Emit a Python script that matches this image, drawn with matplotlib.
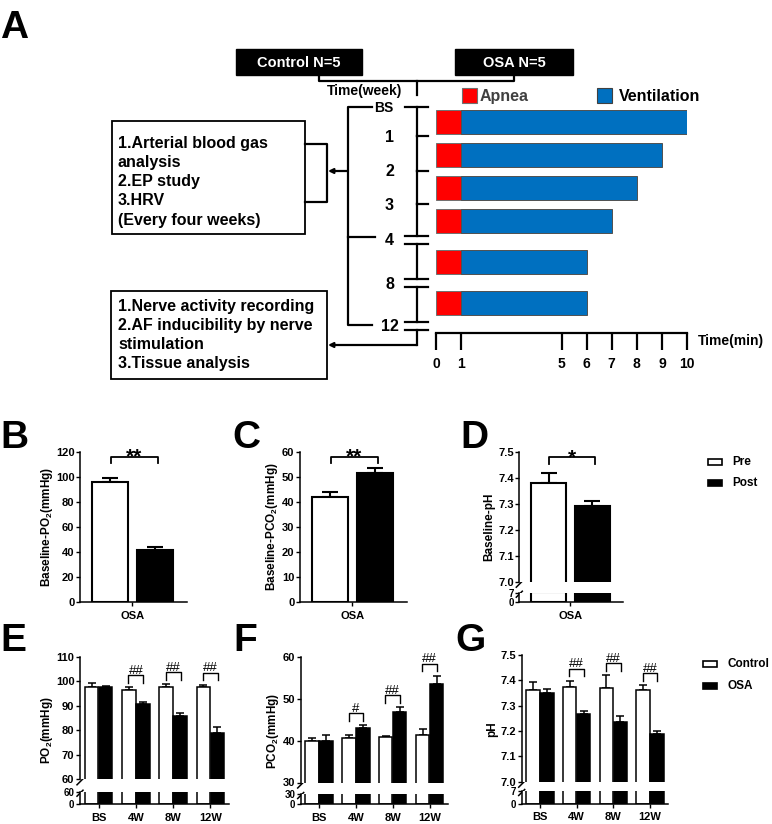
import numpy as np
import matplotlib.pyplot as plt
from matplotlib.patches import Rectangle

plt.rcParams['font.family'] = ['Liberation Sans', 'DejaVu Sans']
plt.rcParams['font.weight'] = 'bold'
plt.rcParams['mathtext.fontset'] = 'custom'
plt.rcParams['mathtext.rm'] = 'Liberation Sans:bold'
plt.rcParams['mathtext.it'] = 'Liberation Sans:bold'
plt.rcParams['mathtext.bf'] = 'Liberation Sans:bold'
plt.rcParams['mathtext.default'] = 'rm'
plt.rcParams['axes.linewidth'] = 1.1

# ---------------- data ----------------
# panel A: apnea / ventilation cycle used in each stage
weeks = ['BS', '1', '2', '3', '4', '8', '12']
apnea_min = [1, 1, 1, 1, 1, 1]
vent_min = [9, 8, 7, 6, 5, 5]
time_ticks = [0, 1, 5, 6, 7, 8, 9, 10]
groups_n = ['Control N=5', 'OSA N=5']
box1_lines = ['1.Arterial blood gas', 'analysis', '2.EP study', '3.HRV',
              '(Every four weeks)']
box2_lines = ['1.Nerve activity recording', '2.AF inducibility by nerve',
              'stimulation', '3.Tissue analysis']

# panels B-D: baseline, pre vs post (OSA)
base_labels = ['Pre', 'Post']
base_po2 = [95.6, 41.7]
base_po2_sem = [3.2, 2.6]
base_pco2 = [42.0, 51.5]
base_pco2_sem = [2.0, 2.0]
base_ph = [7.382, 7.292]
base_ph_sem = [0.038, 0.018]
base_sig = ['**', '**', '*']

# panels E-G: control vs OSA over time
time_points = ['BS', '4W', '8W', '12W']
po2_ctrl = [97.8, 96.4, 97.8, 97.6]
po2_ctrl_sem = [1.3, 1.1, 0.9, 0.9]
po2_osa = [97.6, 90.6, 85.8, 78.7]
po2_osa_sem = [0.6, 0.8, 1.1, 2.5]
pco2_ctrl = [39.8, 40.7, 40.8, 41.4]
pco2_ctrl_sem = [0.8, 0.7, 0.4, 1.3]
pco2_osa = [39.9, 43.0, 46.7, 53.5]
pco2_osa_sem = [1.4, 0.6, 1.2, 1.9]
ph_ctrl = [7.360, 7.375, 7.371, 7.360]
ph_ctrl_sem = [0.033, 0.023, 0.049, 0.020]
ph_osa = [7.350, 7.267, 7.235, 7.190]
ph_osa_sem = [0.017, 0.013, 0.023, 0.010]
sig_po2 = ['', '##', '##', '##']
sig_pco2 = ['', '#', '##', '##']
sig_ph = ['', '##', '##', '##']

# ---------------- figure ----------------
W, H = 772, 824
fig = plt.figure(figsize=(W / 100, H / 100), dpi=100)


def px_axes(x0, y0, x1, y1):
    # axes from pixel box (top-left origin)
    return fig.add_axes([x0 / W, 1 - y1 / H, (x1 - x0) / W, (y1 - y0) / H])


ov = fig.add_axes([0, 0, 1, 1])
ov.set_xlim(0, W)
ov.set_ylim(H, 0)
ov.axis('off')

LW = 1.6
TICK_FS = 8
LOW_FS = 7
for lab, x, y in [('A', 0, 38), ('B', 0, 448), ('C', 232, 448), ('D', 460, 448),
                  ('E', 0, 651), ('F', 233, 651), ('G', 455, 651)]:
    ov.text(x, y, lab, ha='left', va='baseline', fontsize=28, fontweight='bold')

# ---- panel A: group boxes ----
for (x0, x1), txt in zip([(236, 362), (455, 573)], groups_n):
    ov.add_patch(Rectangle((x0, 49), x1 - x0, 26, fc='black', ec='black'))
    ov.text((x0 + x1) / 2, 62.5, txt, color='white', ha='center', va='center',
            fontsize=10.5)
ov.plot([318.6, 318.6, 514.3, 514.3], [75, 80.7, 80.7, 75], color='black', lw=LW)
ov.plot([417, 417], [80.7, 95], color='black', lw=LW)
ov.text(365, 91, 'Time(week)', ha='center', va='center', fontsize=10)

# week timeline
week_y = [107, 136, 170.7, 204, 239.5, 283.3, 325.5]
double = [False, False, False, False, True, True, True]
half = 4
xt = 417
for i in range(len(week_y) - 1):
    ya = week_y[i] + (half if double[i] else 0)
    yb = week_y[i + 1] - (half if double[i + 1] else 0)
    ov.plot([xt, xt], [ya, yb], color='black', lw=LW)
ov.plot([xt, xt], [week_y[-1] + half, 345], color='black', lw=LW)
for i, (w, y) in enumerate(zip(weeks, week_y)):
    if double[i]:
        for yy in (y - half, y + half):
            ov.plot([405, 428], [yy, yy], color='black', lw=LW)
    elif i == 0:
        ov.plot([405, 428], [y, y], color='black', lw=LW)
    else:
        ov.plot([xt, 428], [y, y], color='black', lw=LW)
    ov.text(384 if w == 'BS' else 389.5, y + 1, w, ha='center', va='center',
            fontsize=10 if w == 'BS' else 11.5)

# left bracket + arrows
ov.plot([372, 348, 348, 372], [107.3, 107.3, 325, 325], color='black', lw=LW)
ov.plot([348, 375], [237.3, 237.3], color='black', lw=LW)
arrow = dict(arrowstyle='-|>', color='black', lw=LW, mutation_scale=7,
             shrinkA=0, shrinkB=0)
ov.annotate('', xy=(328, 171), xytext=(348, 171), arrowprops=arrow)
ov.annotate('', xy=(328, 345), xytext=(xt, 345), arrowprops=arrow)

# text boxes
ov.add_patch(Rectangle((112, 120.7), 192.8, 113.3, fc='white', ec='black', lw=1.3))
ov.plot([304.8, 327, 327, 304.8], [143.7, 143.7, 202, 202], color='black', lw=LW)
for txt, y in zip(box1_lines, [143.3, 162.3, 181.7, 200.7, 220]):
    ov.text(118, y, txt, ha='left', va='center', fontsize=11.5)
ov.add_patch(Rectangle((110.6, 290.7), 216.4, 88.3, fc='white', ec='black', lw=1.3))
for txt, y in zip(box2_lines, [306, 325, 344.3, 363.3]):
    ov.text(118, y, txt, ha='left', va='center', fontsize=11.5)

# apnea / ventilation legend
ov.add_patch(Rectangle((462, 88), 15, 15, fc='#FF0000', ec='#707070', lw=0.8))
ov.text(480, 96, 'Apnea', ha='left', va='center', fontsize=11.5, color='#404040')
ov.add_patch(Rectangle((597, 88), 15, 15, fc='#0070C0', ec='#404040', lw=0.8))
ov.text(619, 96, 'Ventilation', ha='left', va='center', fontsize=11.5)

# apnea / ventilation bars on a minute axis
ta = px_axes(436, 100, 687, 333)
ta.set_xlim(0, 10)
ta.set_ylim(333, 100)
rows = [122, 154.7, 188.3, 221, 262, 303]
ta.barh(rows, apnea_min, height=24, left=0, color='#FF0000',
        edgecolor='#707070', linewidth=0.7)
ta.barh(rows, vent_min, height=24, left=apnea_min, color='#0070C0',
        edgecolor='#505050', linewidth=0.7)
for s in ['top', 'right', 'left']:
    ta.spines[s].set_visible(False)
ta.spines['bottom'].set_linewidth(LW)
ta.set_yticks([])
ta.set_xticks(time_ticks)
ta.set_xticklabels([str(t) for t in time_ticks])
ta.tick_params(axis='x', direction='out', length=12, width=LW, labelsize=10, pad=5)
ta.patch.set_visible(False)
ov.text(698, 341, 'Time(min)', ha='left', va='center', fontsize=10)


# ---------------- bar panels ----------------
def draw_bars(ax, xs, vals, sems, colors, width, offs, lw, cap):
    for v, s, c, o in zip(vals, sems, colors, offs):
        ax.bar(xs + o, v, width, color=c, edgecolor='black', linewidth=lw, zorder=2)
        ax.errorbar(xs + o, v, yerr=[np.zeros(len(s)), s], fmt='none',
                    ecolor='black', elinewidth=lw, capsize=cap, capthick=lw,
                    zorder=1)


def style_axis(ax, ticks, fmt, fs):
    for s in ['top', 'right']:
        ax.spines[s].set_visible(False)
    ax.set_yticks(ticks)
    ax.set_yticklabels([fmt.format(t) for t in ticks])
    ax.tick_params(axis='y', direction='out', length=3, width=1, labelsize=fs, pad=1)
    ax.tick_params(axis='x', direction='out', length=3, width=1,
                   labelsize=TICK_FS, pad=3)


def make_panel(box, lo, hi, ticks, fmt, low=None):
    # box = (x0, x1, y_top, y_break, y_low_top, y_bottom)
    x0, x1, yt, yb, ylt, ybot = box
    if low is None:
        ax = px_axes(x0, yt, x1, ybot)
        ax.set_ylim(lo, hi)
        style_axis(ax, ticks, fmt, TICK_FS)
        return ax, ax, [ax]
    top = px_axes(x0, yt, x1, yb)
    bot = px_axes(x0, ylt, x1, ybot)
    top.set_ylim(lo, hi)
    bot.set_ylim(0, lo)
    style_axis(top, ticks, fmt, TICK_FS)
    style_axis(bot, [0, lo], low, LOW_FS)
    top.spines['bottom'].set_visible(False)
    top.set_xticks([])
    # break marks
    for y in (yb + 2.5, ylt + 1.5):
        ov.plot([x0 - 3, x0 + 3], [y + 3, y - 3], color='black', lw=1.1)
    return top, bot, [top, bot]


def px_to_data(ax):
    y0, y1 = ax.get_ylim()
    return (y1 - y0) / (ax.get_position().height * H)


def bracket(ax, xa, xb, yb, label, leg_px, fs, lw, text_px, weight):
    k = px_to_data(ax)
    ax.plot([xa, xa, xb, xb], [yb - leg_px * k, yb, yb, yb - leg_px * k],
            color='black', lw=lw, clip_on=False)
    ax.text((xa + xb) / 2, yb + text_px * k, label, ha='center', va='baseline',
            fontsize=fs, fontweight=weight, clip_on=False)


# B-D
base_sets = [
    (base_po2, base_po2_sem, (80, 186.7, 451.7, None, None, 602.3), 0, 120,
     list(range(0, 121, 20)), '{:d}', None, 'Baseline-PO$_2$(mmHg)', 46.7),
    (base_pco2, base_pco2_sem, (300, 406.7, 451.7, None, None, 602.3), 0, 60,
     list(range(0, 61, 10)), '{:d}', None, 'Baseline-PCO$_2$(mmHg)', 271.7),
    (base_ph, base_ph_sem, (519.3, 623.3, 452.3, 581.7, 592.7, 602.3), 7.0, 7.5,
     [7.0, 7.1, 7.2, 7.3, 7.4, 7.5], '{:.1f}', '{:.0f}', 'Baseline-pH', 489.3),
]
bx = np.array([0.0])
for (vals, sems, box, lo, hi, ticks, fmt, low, ylab, lx), sig in zip(base_sets, base_sig):
    top, bot, axs = make_panel(box, lo, hi, ticks, fmt, low)
    for ax in axs:
        draw_bars(ax, bx, [[vals[0]], [vals[1]]], [[sems[0]], [sems[1]]],
                  ['white', 'black'], 1.0, [-0.62, 0.62], 1.5, 5.5)
        ax.set_xlim(-1.45, 1.5)
    bot.set_xticks([0])
    bot.set_xticklabels(['OSA'])
    k = px_to_data(top)
    bracket(top, -0.6, 0.7, hi - 5 * k, sig, 6.6, 15, 1.3, -6, 'bold')
    ov.text(lx, (box[2] + box[5]) / 2, ylab, rotation=90, ha='center',
            va='center', fontsize=8.5)

# E-G
time_sets = [
    (po2_ctrl, po2_ctrl_sem, po2_osa, po2_osa_sem, sig_po2,
     (80, 229, 656.7, 779.3, 791.7, 804.3), 60, 110, list(range(60, 111, 10)),
     '{:d}', '{:d}', 'PO$_2$(mmHg)', 46.7),
    (pco2_ctrl, pco2_ctrl_sem, pco2_osa, pco2_osa_sem, sig_pco2,
     (300.7, 448, 656.7, 782.5, 794, 804.3), 30, 60, [30, 40, 50, 60],
     '{:d}', '{:d}', 'PCO$_2$(mmHg)', 273.3),
    (ph_ctrl, ph_ctrl_sem, ph_osa, ph_osa_sem, sig_ph,
     (521.7, 668.3, 655, 781.7, 791, 803.5), 7.0, 7.5,
     [7.0, 7.1, 7.2, 7.3, 7.4, 7.5], '{:.1f}', '{:.0f}', 'pH', 492.3),
]
tx = np.arange(len(time_points))
for ctrl, csem, osa, osem, sigs, box, lo, hi, ticks, fmt, low, ylab, lx in time_sets:
    top, bot, axs = make_panel(box, lo, hi, ticks, fmt, low)
    for ax in axs:
        draw_bars(ax, tx, [ctrl, osa], [csem, osem], ['white', 'black'],
                  0.36, [-0.19, 0.19], 1.1, 2.6)
        ax.set_xlim(-0.5, 3.5)
    bot.set_xticks(tx)
    bot.set_xticklabels(time_points)
    k = px_to_data(top)
    for i, s in enumerate(sigs):
        if not s:
            continue
        ytop = max(ctrl[i] + csem[i], osa[i] + osem[i])
        bracket(top, i - 0.2, i + 0.2, ytop + 12 * k, s, 7.5, 9.5, 1.0, 1.5, 'normal')
    ov.text(lx, (box[2] + box[5]) / 2, ylab, rotation=90, ha='center',
            va='center', fontsize=8.5)

# legends
for (x, y, fc, txt) in [(708, 459.3, 'white', base_labels[0]),
                        (708, 480.0, 'black', base_labels[1]),
                        (703, 660.7, 'white', 'Control'),
                        (703, 682.7, 'black', 'OSA')]:
    ov.add_patch(Rectangle((x, y), 13.5, 6, fc=fc, ec='black', lw=1.2))
    ov.text(x + 24.5, y + 3, txt, ha='left', va='center', fontsize=8.5)

fig.savefig('out.png', dpi=100)
